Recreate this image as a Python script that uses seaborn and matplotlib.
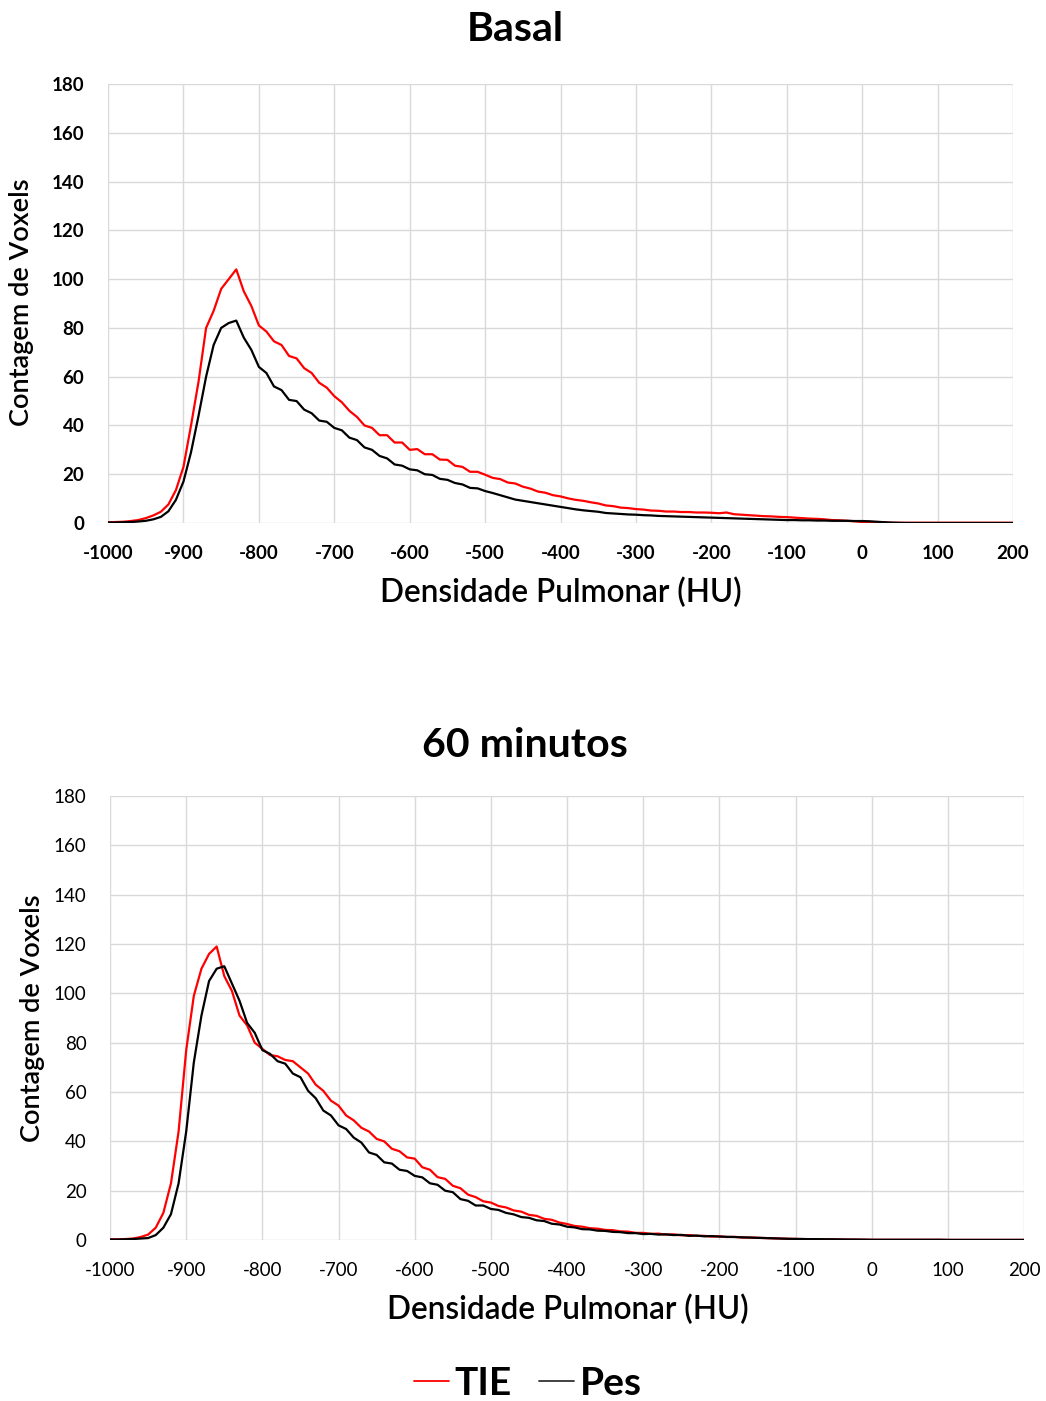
import numpy as np
import pandas as pd
import matplotlib
matplotlib.use("Agg")
import matplotlib.pyplot as plt
from matplotlib.lines import Line2D
import seaborn as sns

# Lung density bins (HU), 10 HU wide
hu = np.arange(-1000, 201, 10)

# Voxel counts per bin - baseline scan
basal_tie = [
    0.3, 0.4, 0.5, 0.8, 1.2, 2.0, 3.1, 4.6, 7.6, 13.5,
    23, 40, 58, 80, 87, 96, 100, 104, 95, 89,
    81, 78.5, 74.5, 73, 68.5, 67.5, 63.5, 61.5, 57.5, 55.5,
    52, 49.5, 46, 43.5, 40, 39, 36, 36, 33, 33,
    30, 30.3, 28.2, 28.2, 26, 25.9, 23.5, 23, 21, 21,
    19.8, 18.5, 18.0, 16.6, 16.2, 14.9, 14.1, 12.9, 12.4, 11.4,
    10.9, 10.1, 9.5, 9.1, 8.5, 8.0, 7.2, 6.9, 6.3, 6.1,
    5.7, 5.5, 5.1, 5.0, 4.7, 4.7, 4.5, 4.5, 4.3, 4.3,
    4.2, 4.0, 4.3, 3.6, 3.4, 3.2, 3.0, 2.8, 2.7, 2.5,
    2.4, 2.2, 2.0, 1.8, 1.7, 1.5, 1.2, 1.1, 0.9, 0.7,
    0.4, 0.3, 0.2, 0.2, 0.1, 0.1, 0.1, 0.1, 0.1, 0.1,
    0.1, 0.1, 0.1, 0.1, 0.1, 0.1, 0.1, 0.1, 0.1, 0.1,
    0.1,
]
basal_pes = [
    0.2, 0.2, 0.3, 0.4, 0.6, 0.9, 1.5, 2.5, 4.8, 9.5,
    17, 29, 44, 60, 73, 80, 82, 83, 76, 71,
    64, 61.5, 56, 54.5, 50.5, 50, 46.5, 45, 42, 41.5,
    39, 38, 35, 34, 31, 30, 27.5, 26.5, 24, 23.5,
    22, 21.6, 20, 19.7, 18.1, 17.7, 16.4, 15.8, 14.4, 14.2,
    13.1, 12.3, 11.4, 10.5, 9.6, 9.1, 8.6, 8.1, 7.6, 7.1,
    6.6, 6.1, 5.6, 5.2, 4.9, 4.6, 4.1, 3.9, 3.7, 3.5,
    3.4, 3.2, 3.1, 2.9, 2.8, 2.7, 2.6, 2.5, 2.4, 2.3,
    2.2, 2.1, 2.0, 1.9, 1.8, 1.7, 1.6, 1.5, 1.4, 1.3,
    1.2, 1.2, 1.1, 1.1, 1.0, 1.0, 0.9, 0.9, 0.9, 0.8,
    0.8, 0.7, 0.5, 0.3, 0.15, 0.05, 0, 0, 0, 0,
    0, 0, 0, 0, 0, 0, 0, 0, 0, 0,
    0,
]

# Voxel counts per bin - 60 minutes
min60_tie = [
    0.3, 0.3, 0.4, 0.6, 1.2, 2.2, 5, 11, 23, 44,
    77, 99, 110, 116, 119, 107, 101, 91, 87, 80,
    77.5, 75, 74.5, 73, 72.5, 70, 67.5, 63, 60.5, 56.5,
    54.5, 50.5, 48.5, 45.5, 44, 41, 40, 37, 36, 33.5,
    33, 29.5, 28.5, 25.5, 24.8, 22, 21, 18.4, 17.4, 15.7,
    15.2, 13.8, 13.2, 12, 11.5, 10.2, 9.8, 8.6, 8.2, 7.1,
    6.5, 5.7, 5.4, 4.8, 4.6, 4.1, 4.0, 3.5, 3.4, 2.9,
    2.9, 2.5, 2.6, 2.2, 2.3, 1.9, 2.0, 1.7, 1.7, 1.4,
    1.5, 1.2, 1.3, 1.0, 1.0, 0.9, 0.8, 0.7, 0.6, 0.5,
    0.45, 0.4, 0.35, 0.3, 0.3, 0.25, 0.2, 0.2, 0.15, 0.15,
    0.1, 0.1, 0.1, 0.1, 0.1, 0.1, 0.1, 0.1, 0.1, 0.1,
    0.05, 0.05, 0.05, 0.05, 0.05, 0.05, 0.05, 0.05, 0.05, 0.05,
    0.05,
]
min60_pes = [
    0.2, 0.2, 0.3, 0.4, 0.6, 0.8, 2.0, 5.0, 10.5, 23,
    44, 72, 91, 105, 110, 111, 104, 97, 88, 84,
    77, 75.5, 72.5, 71.5, 67.5, 66, 60.5, 57.5, 52.5, 50.5,
    46.5, 45, 41.5, 39.5, 35.5, 34.5, 31.5, 31, 28.5, 28,
    26, 25.4, 23, 22.4, 20, 19.4, 16.6, 15.9, 14, 14,
    12.6, 12.2, 11, 10.4, 9.3, 9, 8, 7.7, 6.6, 6.3,
    5.4, 5.1, 4.4, 4.3, 3.8, 3.7, 3.3, 3.2, 2.8, 2.8,
    2.4, 2.5, 2.2, 2.3, 2.0, 2.1, 1.7, 1.8, 1.5, 1.6,
    1.4, 1.3, 1.2, 1.1, 1.0, 0.9, 0.8, 0.7, 0.6, 0.5,
    0.45, 0.4, 0.35, 0.35, 0.3, 0.3, 0.25, 0.2, 0.2, 0.15,
    0.1, 0.1, 0.1, 0.1, 0.1, 0.1, 0.1, 0.1, 0.1, 0.1,
    0.05, 0.05, 0.05, 0.05, 0.05, 0.05, 0.05, 0.05, 0.05, 0.05,
    0.05,
]

series_names = ["TIE", "Pes"]
colors = {"TIE": "#ff0000", "Pes": "#000000"}
x_ticks = list(range(-1000, 201, 100))
y_ticks = list(range(0, 181, 20))


def long_frame(tie, pes):
    return pd.DataFrame({
        "HU": np.concatenate([hu, hu]),
        "Voxels": np.concatenate([tie, pes]),
        "Série": ["TIE"] * len(hu) + ["Pes"] * len(hu),
    })


sns.set_theme(style="whitegrid")
plt.rcParams["font.family"] = ["Lato", "DejaVu Sans"]
plt.rcParams["axes.unicode_minus"] = False
plt.rcParams["text.color"] = "black"

fig = plt.figure(figsize=(10.46, 14.01), dpi=100)
ax1 = fig.add_axes([0.1033, 0.6267, 0.8652, 0.3133])
ax2 = fig.add_axes([0.1052, 0.1149, 0.8738, 0.3169])

panels = [
    (ax1, basal_tie, basal_pes, "bold"),
    (ax2, min60_tie, min60_pes, "normal"),
]
for ax, tie, pes, tick_weight in panels:
    sns.lineplot(data=long_frame(tie, pes), x="HU", y="Voxels", hue="Série",
                 hue_order=series_names, palette=colors, estimator=None,
                 linewidth=1.6, ax=ax, legend=False)
    ax.set_xlim(-1000, 200)
    ax.set_ylim(0, 180)
    ax.set_xticks(x_ticks)
    ax.set_yticks(y_ticks)
    ax.set_xlabel("")
    ax.set_ylabel("")
    ax.grid(True, color="#d9d9d9", linewidth=1.0)
    for s in ax.spines.values():
        s.set_visible(False)
    ax.tick_params(axis="x", length=0, pad=16, labelsize=13.5, labelcolor="black")
    ax.tick_params(axis="y", length=0, pad=17, labelsize=13.5, labelcolor="black")
    for lab in ax.get_xticklabels() + ax.get_yticklabels():
        lab.set_fontweight(tick_weight)

# Panel titles
fig.text(0.4924, 0.9786, "Basal", ha="center", va="center", fontsize=29.5, fontweight="bold")
fig.text(0.5019, 0.4682, "60 minutos", ha="center", va="center", fontsize=29.5, fontweight="bold")

# Axis titles
fig.text(0.5363, 0.5767, "Densidade Pulmonar (HU)", ha="center", va="center", fontsize=22.7,
         fontweight="semibold")
fig.text(0.5430, 0.0650, "Densidade Pulmonar (HU)", ha="center", va="center", fontsize=22.7,
         fontweight="semibold")
fig.text(0.0210, 0.7844, "Contagem de Voxels", ha="center", va="center", rotation=90,
         fontsize=19.5, fontweight="semibold")
fig.text(0.0315, 0.2734, "Contagem de Voxels", ha="center", va="center", rotation=90,
         fontsize=19.5, fontweight="semibold")

# Shared legend
handles = [Line2D([], [], color="#ff0000", lw=1.3), Line2D([], [], color="#333333", lw=1.3)]
fig.legend(handles, series_names, loc="center", bbox_to_anchor=(0.5048, 0.0128), ncol=2,
           frameon=False, handlelength=0.9, handletextpad=0.15, columnspacing=0.7,
           prop={"size": 28, "weight": "bold"})

fig.savefig("out.png", dpi=100)
